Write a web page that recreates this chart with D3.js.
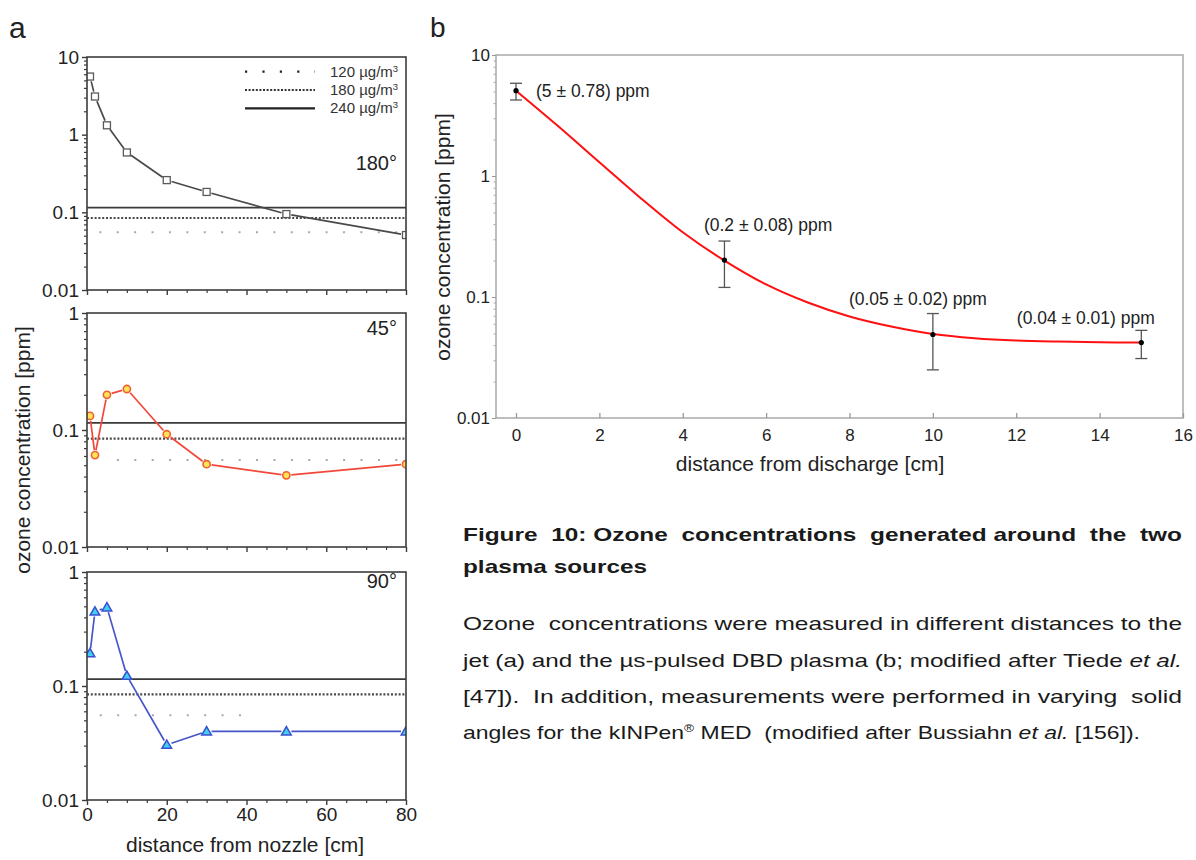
<!DOCTYPE html>
<html><head><meta charset="utf-8">
<script src="https://cdn.jsdelivr.net/npm/d3@7"></script>
<style>
html,body{margin:0;padding:0;background:#fff;}
text{font-family:"Liberation Sans",Arial,sans-serif;}
</style></head>
<body>
<svg id="chart" width="1196" height="860"></svg>
<script>
// ---------- data: panel a ----------
const distA = [0.75, 2, 5, 10, 20, 30, 50, 80];
const o3_180 = [5.6, 3.1, 1.32, 0.59, 0.26, 0.183, 0.095, 0.051];
const o3_45  = [0.132, 0.061, 0.20, 0.224, 0.092, 0.051, 0.041, 0.051];
const o3_90  = [0.194, 0.45, 0.49, 0.123, 0.0305, 0.040, 0.040, 0.040];
const panelLabels = ["180°", "45°", "90°"];
const limitNames = ["120 µg/m", "180 µg/m", "240 µg/m"];
const limitPpm = [0.0555, 0.0845, 0.115];
const limit120Start = [3.1, 7.5, 3.2];
const limit120End = [80, 80, 39];
const xTicksA = [0, 20, 40, 60, 80];
const xMinorA = [5, 10, 15, 25, 30, 35, 45, 50, 55, 65, 70, 75];
const yTicksTop = [10, 1, 0.1, 0.01];
const yTicksSub = [1, 0.1, 0.01];
const yTickLabels = {10: "10", 1: "1", 0.1: "0.1", 0.01: "0.01"};

// ---------- data: panel b ----------
const distB = [0, 5, 10, 15];
const o3B = [5.07, 0.202, 0.049, 0.042];
const errLow = [4.25, 0.12, 0.025, 0.031];
const errHigh = [5.84, 0.29, 0.073, 0.053];
const annotB = ["(5 ± 0.78) ppm", "(0.2 ± 0.08) ppm", "(0.05 ± 0.02) ppm", "(0.04 ± 0.01) ppm"];
const fitX = [0, 1, 2, 3, 4, 5, 6, 7, 8, 9, 10, 11, 12, 13, 14, 15];
const fitY = [5.07, 2.6, 1.3, 0.653, 0.343, 0.2, 0.127, 0.09, 0.069, 0.057, 0.0495, 0.0457, 0.0437, 0.0428, 0.0423, 0.042];
const xTicksB = [0, 2, 4, 6, 8, 10, 12, 14, 16];

const svg = d3.select("#chart");
const TXT = "#222";

// panel letters
svg.append("text").attr("x", 9).attr("y", 38).attr("font-size", 30).attr("fill", TXT).text("a");
svg.append("text").attr("x", 430).attr("y", 37).attr("font-size", 28).attr("fill", TXT).text("b");

// ---------- panel a ----------
const xA = d3.scaleLinear().domain([0, 80]).range([87, 406]);
const panels = [
  {top: 57, bottom: 290, dom: [0.01, 10], vals: o3_180, ticks: yTicksTop, kind: "square", line: "#4a4a4a"},
  {top: 313, bottom: 547, dom: [0.01, 1], vals: o3_45, ticks: yTicksSub, kind: "circle", line: "#f2473a"},
  {top: 572, bottom: 800, dom: [0.01, 1], vals: o3_90, ticks: yTicksSub, kind: "triangle", line: "#4656c8"}
];
function minorTicks(dom) {
  const out = [];
  for (let e = Math.log10(dom[0]); e < Math.log10(dom[1]) - 1e-9; e++) {
    for (let m = 2; m <= 9; m++) out.push(m * Math.pow(10, e));
  }
  return out;
}
panels.forEach((p, i) => {
  const y = d3.scaleLog().domain(p.dom).range([p.bottom, p.top]);
  const g = svg.append("g");
  const clipId = "clipA" + i;
  svg.append("clipPath").attr("id", clipId).append("rect")
    .attr("x", xA(0)).attr("y", p.top).attr("width", xA(80) - xA(0)).attr("height", p.bottom - p.top);

  // reference lines
  const lg = g.append("g").attr("clip-path", `url(#${clipId})`);
  lg.append("line").attr("x1", xA(limit120Start[i])).attr("x2", xA(limit120End[i]))
    .attr("y1", y(limitPpm[0])).attr("y2", y(limitPpm[0]))
    .attr("stroke", "#a8a8a8").attr("stroke-width", 2).attr("stroke-dasharray", "2,15.4");
  lg.append("line").attr("x1", xA(0)).attr("x2", xA(80))
    .attr("y1", y(limitPpm[1])).attr("y2", y(limitPpm[1]))
    .attr("stroke", "#4a4a4a").attr("stroke-width", 2.2).attr("stroke-dasharray", "2,1.8");
  lg.append("line").attr("x1", xA(0)).attr("x2", xA(80))
    .attr("y1", y(limitPpm[2])).attr("y2", y(limitPpm[2]))
    .attr("stroke", "#3a3a3a").attr("stroke-width", 1.6);

  // data line segments with gaps near markers
  const pts = distA.map((d, k) => [xA(d), y(p.vals[k])]);
  const gap = 5;
  for (let k = 0; k < pts.length - 1; k++) {
    const [x1, y1] = pts[k], [x2, y2] = pts[k + 1];
    const L = Math.hypot(x2 - x1, y2 - y1);
    if (L < 2 * gap + 1) continue;
    const ux = (x2 - x1) / L, uy = (y2 - y1) / L;
    lg.append("line").attr("x1", x1 + ux * gap).attr("y1", y1 + uy * gap)
      .attr("x2", x2 - ux * gap).attr("y2", y2 - uy * gap)
      .attr("stroke", p.line).attr("stroke-width", 1.7);
  }
  // markers
  const mg = lg.append("g");
  pts.forEach(([px, py]) => {
    if (p.kind === "square") {
      mg.append("rect").attr("x", px - 3.5).attr("y", py - 3.5).attr("width", 7).attr("height", 7)
        .attr("fill", "#fff").attr("stroke", "#5a5a5a").attr("stroke-width", 1.3);
    } else if (p.kind === "circle") {
      mg.append("circle").attr("cx", px).attr("cy", py).attr("r", 3.6)
        .attr("fill", "#ffe45a").attr("stroke", "#f0602e").attr("stroke-width", 1.6);
    } else {
      mg.append("path").attr("d", d3.symbol(d3.symbolTriangle, 40)()).attr("transform", `translate(${px},${py + 0.8})`)
        .attr("fill", "#3fd0f2").attr("stroke", "#3b4fcf").attr("stroke-width", 1.5);
    }
  });

  // frame
  g.append("rect").attr("x", xA(0)).attr("y", p.top).attr("width", xA(80) - xA(0)).attr("height", p.bottom - p.top)
    .attr("fill", "none").attr("stroke", "#3c3c3c").attr("stroke-width", 1.6);

  // y axis
  const ya = g.append("g").attr("transform", `translate(${xA(0)},0)`)
    .call(d3.axisLeft(y).tickValues(p.ticks).tickFormat(d => yTickLabels[d]).tickSize(5).tickPadding(3));
  ya.select(".domain").remove();
  ya.selectAll("line").attr("stroke", "#3c3c3c").attr("stroke-width", 1.4);
  ya.selectAll("text").attr("font-size", 19).attr("fill", TXT).attr("font-family", "Liberation Sans, Arial, sans-serif");
  const ym = g.append("g").attr("transform", `translate(${xA(0)},0)`)
    .call(d3.axisLeft(y).tickValues(minorTicks(p.dom)).tickFormat("").tickSize(3));
  ym.select(".domain").remove();
  ym.selectAll("line").attr("stroke", "#3c3c3c").attr("stroke-width", 1.2);

  // x axis
  const xa = g.append("g").attr("transform", `translate(0,${p.bottom})`)
    .call(d3.axisBottom(xA).tickValues(xTicksA).tickFormat(i === 2 ? d3.format("d") : "").tickSize(5).tickPadding(3));
  xa.select(".domain").remove();
  xa.selectAll("line").attr("stroke", "#3c3c3c").attr("stroke-width", 1.4);
  xa.selectAll("text").attr("font-size", 19).attr("fill", TXT).attr("font-family", "Liberation Sans, Arial, sans-serif");
  const xm = g.append("g").attr("transform", `translate(0,${p.bottom})`)
    .call(d3.axisBottom(xA).tickValues(xMinorA).tickFormat("").tickSize(3));
  xm.select(".domain").remove();
  xm.selectAll("line").attr("stroke", "#3c3c3c").attr("stroke-width", 1.2);

  // angle label
  g.append("text").attr("x", 397).attr("y", [170, 335, 588][i]).attr("text-anchor", "end")
    .attr("font-size", 20).attr("fill", TXT).text(panelLabels[i]);

  // legend in top panel
  if (i === 0) {
    const rows = [71.7, 90, 108.3];
    const styles = [
      {stroke: "#222", w: 2.2, dash: "2.2,15.2"},
      {stroke: "#333", w: 2.2, dash: "2,1.6"},
      {stroke: "#222", w: 2.2, dash: null}
    ];
    rows.forEach((ry, r) => {
      const l = g.append("line").attr("x1", 245).attr("x2", 315).attr("y1", ry).attr("y2", ry)
        .attr("stroke", styles[r].stroke).attr("stroke-width", styles[r].w);
      if (styles[r].dash) l.attr("stroke-dasharray", styles[r].dash);
      const t = g.append("text").attr("x", 330).attr("y", ry + 5).attr("font-size", 15).attr("fill", "#333")
        .text(limitNames[r]);
      t.append("tspan").attr("dy", -5).attr("font-size", 9.5).text("3");
    });
  }
});
// panel a axis titles
svg.append("text").attr("transform", "translate(30,450) rotate(-90)").attr("text-anchor", "middle")
  .attr("font-size", 21).attr("fill", TXT).text("ozone concentration [ppm]");
svg.append("text").attr("x", 245).attr("y", 852).attr("text-anchor", "middle")
  .attr("font-size", 21).attr("fill", TXT).text("distance from nozzle [cm]");

// ---------- panel b ----------
const xB = d3.scaleLinear().domain([-0.48, 16]).range([496, 1183]);
const yB = d3.scaleLog().domain([0.01, 10]).range([418, 55]);
const gb = svg.append("g");
gb.append("rect").attr("x", 496).attr("y", 55).attr("width", 1183 - 496).attr("height", 418 - 55)
  .attr("fill", "none").attr("stroke", "#a9a9a9").attr("stroke-width", 1.5);
const yaB = gb.append("g").attr("transform", "translate(496,0)")
  .call(d3.axisLeft(yB).tickValues([10, 1, 0.1, 0.01]).tickFormat(d => yTickLabels[d]).tickSize(4).tickPadding(2));
yaB.select(".domain").remove();
yaB.selectAll("line").attr("stroke", "#999");
yaB.selectAll("text").attr("font-size", 17).attr("fill", TXT).attr("font-family", "Liberation Sans, Arial, sans-serif");
const ymB = gb.append("g").attr("transform", "translate(496,0)")
  .call(d3.axisLeft(yB).tickValues(minorTicks([0.01, 10])).tickFormat("").tickSize(2.5));
ymB.select(".domain").remove();
ymB.selectAll("line").attr("stroke", "#aaa");
const xaB = gb.append("g").attr("transform", "translate(0,418)")
  .call(d3.axisBottom(xB).tickValues(xTicksB).tickFormat(d3.format("d")).tickSizeInner(-5).tickSizeOuter(0).tickPadding(11));
xaB.select(".domain").remove();
xaB.selectAll("line").attr("stroke", "#999").attr("stroke-width", 1.3);
xaB.selectAll("text").attr("font-size", 17).attr("fill", TXT).attr("font-family", "Liberation Sans, Arial, sans-serif");

// fit curve
gb.append("path").datum(fitX.map((d, k) => [d, fitY[k]]))
  .attr("d", d3.line().x(d => xB(d[0])).y(d => yB(d[1])).curve(d3.curveCatmullRom.alpha(0.5)))
  .attr("fill", "none").attr("stroke", "#ff1010").attr("stroke-width", 2);
// error bars
distB.forEach((d, k) => {
  const cx = xB(d);
  gb.append("line").attr("x1", cx).attr("x2", cx).attr("y1", yB(errLow[k])).attr("y2", yB(errHigh[k]))
    .attr("stroke", "#555").attr("stroke-width", 1.3);
  [errLow[k], errHigh[k]].forEach(v => gb.append("line").attr("x1", cx - 6).attr("x2", cx + 6)
    .attr("y1", yB(v)).attr("y2", yB(v)).attr("stroke", "#555").attr("stroke-width", 1.3));
  gb.append("circle").attr("cx", cx).attr("cy", yB(o3B[k])).attr("r", 2.6).attr("fill", "#000");
});
const annOff = [[20, 6], [-20.5, -29], [-84, -29], [-124.5, -19]];
distB.forEach((d, k) => {
  gb.append("text").attr("x", xB(d) + annOff[k][0]).attr("y", yB(o3B[k]) + annOff[k][1])
    .attr("font-size", 17.5).attr("fill", TXT).text(annotB[k]);
});
svg.append("text").attr("transform", "translate(450,237) rotate(-90)").attr("text-anchor", "middle")
  .attr("font-size", 21).attr("fill", TXT).text("ozone concentration [ppm]");
svg.append("text").attr("x", 810).attr("y", 471).attr("text-anchor", "middle")
  .attr("font-size", 21).attr("fill", TXT).text("distance from discharge [cm]");

// ---------- caption ----------
const capFont = "'Liberation Sans Narrow','Liberation Sans',Arial,sans-serif";
const capLines = [
  {y: 541, w: 719, bold: true, parts: [["Figure  10: Ozone  concentrations  generated around  the  two", ""]]},
  {y: 573, w: 184, bold: true, parts: [["plasma sources", ""]]},
  {y: 630, w: 719, parts: [["Ozone  concentrations were measured in different distances to the", ""]]},
  {y: 667, w: 719, parts: [["jet (a) and the µs-pulsed DBD plasma (b; modified after Tiede ", ""], ["et al.", "i"]]},
  {y: 703, w: 719, parts: [["[47]).  In addition, measurements were performed in varying  solid", ""]]},
  {y: 739, w: 677, parts: [["angles for the kINPen", ""], ["®", "sup"], [" MED  (modified after Bussiahn ", ""], ["et al.", "i"], [" [156]).", ""]]}
];
capLines.forEach(l => {
  const t = svg.append("text").attr("x", 463).attr("y", l.y).attr("font-size", 18.5)
    .attr("font-family", capFont).attr("fill", "#1a1a1a").attr("font-weight", l.bold ? "bold" : "normal")
    .attr("textLength", l.w).attr("lengthAdjust", "spacingAndGlyphs").style("white-space", "pre");
  let prevSup = false;
  l.parts.forEach(([s, st]) => {
    const sp = t.append("tspan").text(s);
    if (st === "i") sp.attr("font-style", "italic");
    if (st === "sup") { sp.attr("font-size", 11).attr("dy", -7); }
    else if (prevSup) sp.attr("dy", 7);
    prevSup = st === "sup";
  });
});
</script>
</body></html>
